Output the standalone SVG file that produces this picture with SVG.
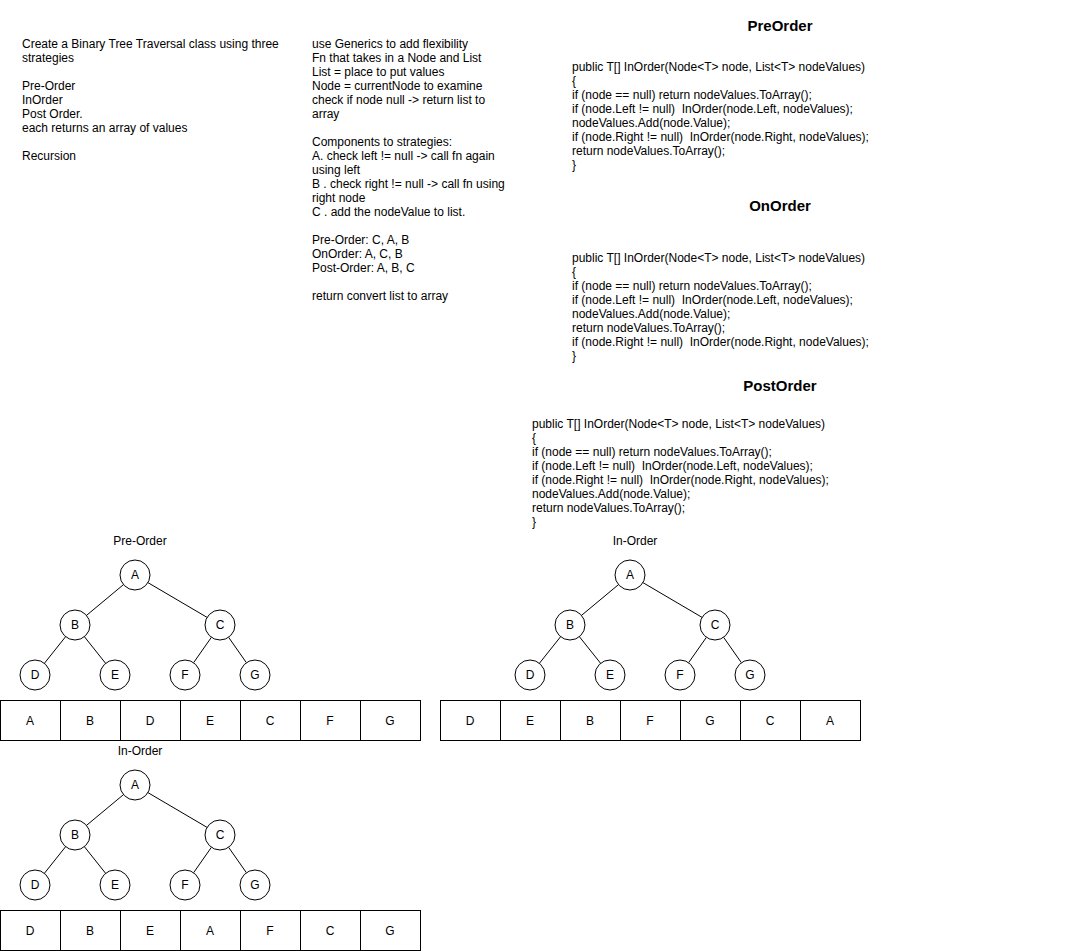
<svg xmlns="http://www.w3.org/2000/svg" width="1071" height="951" viewBox="0 0 1071 951">
<style>
text{font-family:"Liberation Sans",Arial,Helvetica,sans-serif;font-size:12px;fill:#000;white-space:pre}
.t{font-size:15px;font-weight:bold;text-anchor:middle}
.c{text-anchor:middle}
circle{fill:#fff;stroke:#000;stroke-width:1}
rect{fill:#fff;stroke:#000;stroke-width:1}
line{stroke:#000;stroke-width:1}
</style>
<rect x="0" y="0" width="1071" height="951" style="stroke:none"/>
<g id="notes-left">
<text x="22" y="48">Create a Binary Tree Traversal class using three</text>
<text x="22" y="62">strategies</text>
<text x="22" y="90">Pre-Order</text>
<text x="22" y="104">InOrder</text>
<text x="22" y="118">Post Order.</text>
<text x="22" y="132">each returns an array of values</text>
<text x="22" y="160">Recursion</text>
</g>
<g id="notes-mid">
<text x="312" y="48">use Generics to add flexibility</text>
<text x="312" y="62">Fn that takes in a Node and List</text>
<text x="312" y="76">List = place to put values</text>
<text x="312" y="90">Node = currentNode to examine</text>
<text x="312" y="104">check if node null -&gt; return list to</text>
<text x="312" y="118">array</text>
<text x="312" y="146">Components to strategies:</text>
<text x="312" y="160">A. check left != null -&gt; call fn again</text>
<text x="312" y="174">using left</text>
<text x="312" y="188">B . check right != null -&gt; call fn using</text>
<text x="312" y="202">right node</text>
<text x="312" y="216">C . add the nodeValue to list.</text>
<text x="312" y="244">Pre-Order: C, A, B</text>
<text x="312" y="258">OnOrder: A, C, B</text>
<text x="312" y="272">Post-Order: A, B, C</text>
<text x="312" y="300">return convert list to array</text>
</g>
<g id="code-preorder">
<text class="t" x="780" y="31">PreOrder</text>
<text x="572" y="71">public T[] InOrder(Node&lt;T&gt; node, List&lt;T&gt; nodeValues)</text>
<text x="572" y="85">{</text>
<text x="572" y="99">if (node == null) return nodeValues.ToArray();</text>
<text x="572" y="113">if (node.Left != null)  InOrder(node.Left, nodeValues);</text>
<text x="572" y="127">nodeValues.Add(node.Value);</text>
<text x="572" y="141">if (node.Right != null)  InOrder(node.Right, nodeValues);</text>
<text x="572" y="155">return nodeValues.ToArray();</text>
<text x="572" y="169">}</text>
</g>
<g id="code-onorder">
<text class="t" x="780" y="211">OnOrder</text>
<text x="572" y="262">public T[] InOrder(Node&lt;T&gt; node, List&lt;T&gt; nodeValues)</text>
<text x="572" y="276">{</text>
<text x="572" y="290">if (node == null) return nodeValues.ToArray();</text>
<text x="572" y="304">if (node.Left != null)  InOrder(node.Left, nodeValues);</text>
<text x="572" y="318">nodeValues.Add(node.Value);</text>
<text x="572" y="332">return nodeValues.ToArray();</text>
<text x="572" y="346">if (node.Right != null)  InOrder(node.Right, nodeValues);</text>
<text x="572" y="360">}</text>
</g>
<g id="code-postorder">
<text class="t" x="780" y="391">PostOrder</text>
<text x="532" y="428">public T[] InOrder(Node&lt;T&gt; node, List&lt;T&gt; nodeValues)</text>
<text x="532" y="442">{</text>
<text x="532" y="456">if (node == null) return nodeValues.ToArray();</text>
<text x="532" y="470">if (node.Left != null)  InOrder(node.Left, nodeValues);</text>
<text x="532" y="484">if (node.Right != null)  InOrder(node.Right, nodeValues);</text>
<text x="532" y="498">nodeValues.Add(node.Value);</text>
<text x="532" y="512">return nodeValues.ToArray();</text>
<text x="532" y="526">}</text>
</g>
<g id="connectors">
<line x1="123.5" y1="584.6" x2="86.5" y2="615.4"/>
<line x1="147.9" y1="582.6" x2="207.1" y2="617.4"/>
<line x1="65.6" y1="636.7" x2="44.4" y2="663.3"/>
<line x1="84.4" y1="636.7" x2="105.6" y2="663.3"/>
<line x1="211.4" y1="637.3" x2="193.6" y2="662.7"/>
<line x1="228.6" y1="637.3" x2="246.4" y2="662.7"/>
<line x1="618.5" y1="584.6" x2="581.5" y2="615.4"/>
<line x1="642.9" y1="582.6" x2="702.1" y2="617.4"/>
<line x1="560.6" y1="636.7" x2="539.4" y2="663.3"/>
<line x1="579.4" y1="636.7" x2="600.6" y2="663.3"/>
<line x1="706.4" y1="637.3" x2="688.6" y2="662.7"/>
<line x1="723.6" y1="637.3" x2="741.4" y2="662.7"/>
<line x1="123.5" y1="794.6" x2="86.5" y2="825.4"/>
<line x1="147.9" y1="792.6" x2="207.1" y2="827.4"/>
<line x1="65.6" y1="846.7" x2="44.4" y2="873.3"/>
<line x1="84.4" y1="846.7" x2="105.6" y2="873.3"/>
<line x1="211.4" y1="847.3" x2="193.6" y2="872.7"/>
<line x1="228.6" y1="847.3" x2="246.4" y2="872.7"/>
</g>
<g id="tree-preorder">
<text class="c" x="140" y="545">Pre-Order</text>
<g id="pre-A"><circle cx="135" cy="575" r="15"/><text class="c" x="135" y="579">A</text></g>
<g id="pre-B"><circle cx="75" cy="625" r="15"/><text class="c" x="75" y="629">B</text></g>
<g id="pre-C"><circle cx="220" cy="625" r="15"/><text class="c" x="220" y="629">C</text></g>
<g id="pre-D"><circle cx="35" cy="675" r="15"/><text class="c" x="35" y="679">D</text></g>
<g id="pre-E"><circle cx="115" cy="675" r="15"/><text class="c" x="115" y="679">E</text></g>
<g id="pre-F"><circle cx="185" cy="675" r="15"/><text class="c" x="185" y="679">F</text></g>
<g id="pre-G"><circle cx="255" cy="675" r="15"/><text class="c" x="255" y="679">G</text></g>
</g>
<g id="array-preorder">
<rect x="0.5" y="700.5" width="60" height="40"/><text class="c" x="30" y="725">A</text>
<rect x="60.5" y="700.5" width="60" height="40"/><text class="c" x="90" y="725">B</text>
<rect x="120.5" y="700.5" width="60" height="40"/><text class="c" x="150" y="725">D</text>
<rect x="180.5" y="700.5" width="60" height="40"/><text class="c" x="210" y="725">E</text>
<rect x="240.5" y="700.5" width="60" height="40"/><text class="c" x="270" y="725">C</text>
<rect x="300.5" y="700.5" width="60" height="40"/><text class="c" x="330" y="725">F</text>
<rect x="360.5" y="700.5" width="60" height="40"/><text class="c" x="390" y="725">G</text>
</g>
<g id="tree-postorder">
<text class="c" x="635" y="545">In-Order</text>
<g id="post-A"><circle cx="630" cy="575" r="15"/><text class="c" x="630" y="579">A</text></g>
<g id="post-B"><circle cx="570" cy="625" r="15"/><text class="c" x="570" y="629">B</text></g>
<g id="post-C"><circle cx="715" cy="625" r="15"/><text class="c" x="715" y="629">C</text></g>
<g id="post-D"><circle cx="530" cy="675" r="15"/><text class="c" x="530" y="679">D</text></g>
<g id="post-E"><circle cx="610" cy="675" r="15"/><text class="c" x="610" y="679">E</text></g>
<g id="post-F"><circle cx="680" cy="675" r="15"/><text class="c" x="680" y="679">F</text></g>
<g id="post-G"><circle cx="750" cy="675" r="15"/><text class="c" x="750" y="679">G</text></g>
</g>
<g id="array-postorder">
<rect x="440.5" y="700.5" width="60" height="40"/><text class="c" x="470" y="725">D</text>
<rect x="500.5" y="700.5" width="60" height="40"/><text class="c" x="530" y="725">E</text>
<rect x="560.5" y="700.5" width="60" height="40"/><text class="c" x="590" y="725">B</text>
<rect x="620.5" y="700.5" width="60" height="40"/><text class="c" x="650" y="725">F</text>
<rect x="680.5" y="700.5" width="60" height="40"/><text class="c" x="710" y="725">G</text>
<rect x="740.5" y="700.5" width="60" height="40"/><text class="c" x="770" y="725">C</text>
<rect x="800.5" y="700.5" width="60" height="40"/><text class="c" x="830" y="725">A</text>
</g>
<g id="tree-inorder">
<text class="c" x="140" y="755">In-Order</text>
<g id="in-A"><circle cx="135" cy="785" r="15"/><text class="c" x="135" y="789">A</text></g>
<g id="in-B"><circle cx="75" cy="835" r="15"/><text class="c" x="75" y="839">B</text></g>
<g id="in-C"><circle cx="220" cy="835" r="15"/><text class="c" x="220" y="839">C</text></g>
<g id="in-D"><circle cx="35" cy="885" r="15"/><text class="c" x="35" y="889">D</text></g>
<g id="in-E"><circle cx="115" cy="885" r="15"/><text class="c" x="115" y="889">E</text></g>
<g id="in-F"><circle cx="185" cy="885" r="15"/><text class="c" x="185" y="889">F</text></g>
<g id="in-G"><circle cx="255" cy="885" r="15"/><text class="c" x="255" y="889">G</text></g>
</g>
<g id="array-inorder">
<rect x="0.5" y="910.5" width="60" height="40"/><text class="c" x="30" y="935">D</text>
<rect x="60.5" y="910.5" width="60" height="40"/><text class="c" x="90" y="935">B</text>
<rect x="120.5" y="910.5" width="60" height="40"/><text class="c" x="150" y="935">E</text>
<rect x="180.5" y="910.5" width="60" height="40"/><text class="c" x="210" y="935">A</text>
<rect x="240.5" y="910.5" width="60" height="40"/><text class="c" x="270" y="935">F</text>
<rect x="300.5" y="910.5" width="60" height="40"/><text class="c" x="330" y="935">C</text>
<rect x="360.5" y="910.5" width="60" height="40"/><text class="c" x="390" y="935">G</text>
</g>
</svg>
